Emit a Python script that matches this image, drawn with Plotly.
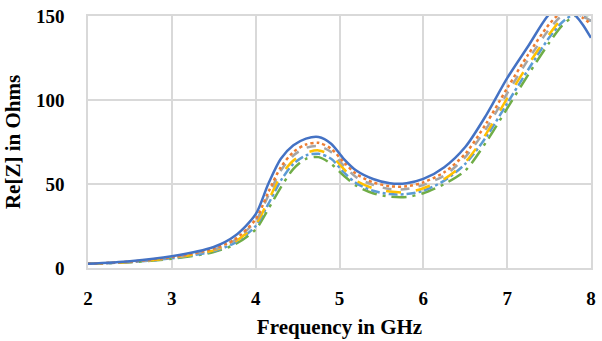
import plotly.graph_objects as go

freq = [2.0, 2.5, 3.0, 3.5, 3.75, 4.0, 4.15, 4.3, 4.45, 4.6, 4.75, 4.9, 5.05, 5.2,
        5.4, 5.6, 5.8, 6.0, 6.25, 6.5, 6.75, 7.0, 7.25, 7.5, 7.65, 7.8, 7.9, 8.0]

s_blue = [2.5, 4, 7, 12.5, 19, 32, 50, 65, 73, 77, 78, 74, 65, 58, 53, 50.5, 50.5, 53,
          60, 72, 91, 113, 132, 151, 156, 151, 145, 137]
s_orange = [2.5, 3.8, 6.5, 11.5, 17, 29, 45, 60, 69, 73.5, 74.5, 71, 63, 56, 51, 48.7,
            48.6, 51, 57, 68, 86, 107, 127, 145, 152, 152, 149, 145]
s_gray = [2.5, 3.7, 6.3, 11, 16.5, 28, 43, 58, 67, 71.5, 72.5, 69, 61, 54, 49.5, 47, 47,
          49.5, 55, 66, 83, 104, 124, 142, 150, 152, 150, 147]
s_yellow = [2.5, 3.6, 6, 10.5, 15.5, 26, 40, 55, 64, 68.5, 70, 67, 59, 52, 47.5, 45.5,
            45, 47.5, 53, 63, 80, 101, 121, 139, 148, 152, 151, 148]
s_ltblue = [2.5, 3.5, 5.8, 10, 15, 25, 38, 52, 62, 67, 68, 65, 57, 50.5, 46, 44, 44, 46,
            52, 62, 78, 98, 118, 137, 146, 151, 150, 147]
s_green = [2.5, 3.4, 5.5, 9.5, 14, 23, 35, 48, 59, 65, 66, 62, 55, 49, 44.5, 42.5, 42.3,
           44.5, 50, 58, 75, 95, 115, 134, 144, 150, 151, 150]

x_ticks = [2, 3, 4, 5, 6, 7, 8]
y_ticks = [0, 50, 100, 150]

series = [
    (s_green, "#70AD47", "longdashdot", 2.5),
    (s_ltblue, "#5B9BD5", "dashdot", 2.5),
    (s_yellow, "#FFC000", "longdash", 2.5),
    (s_gray, "#A5A5A5", "dash", 2.5),
    (s_orange, "#ED7D31", "dot", 2.5),
    (s_blue, "#4472C4", "solid", 2.5),
]

fig = go.Figure()
for ys, col, dash, w in series:
    fig.add_trace(go.Scatter(x=freq, y=ys, mode="lines",
                             line=dict(color=col, dash=dash, width=w, shape="spline", smoothing=0.8),
                             showlegend=False))

font_tick = dict(family="Liberation Serif", size=19, color="#000000")
font_title = dict(family="Liberation Serif", size=21, color="#000000")

fig.update_layout(
    width=602, height=341,
    margin=dict(l=88, r=6, t=15, b=73),
    paper_bgcolor="white", plot_bgcolor="white",
    font=font_tick,
    xaxis=dict(range=[2, 8], tickvals=x_ticks, ticktext=[f"<b>{v}</b>" for v in x_ticks],
               tickfont=font_tick,
               showgrid=True, gridcolor="#D9D9D9", gridwidth=1.5,
               showline=True, linecolor="#D9D9D9", linewidth=1.5, mirror=True,
               zeroline=False, ticks="", ticklabelstandoff=12,
               title=dict(text="<b>Frequency in GHz</b>", standoff=12, font=font_title)),
    yaxis=dict(range=[0, 150], tickvals=y_ticks, ticktext=[f"<b>{v}</b>" for v in y_ticks],
               tickfont=font_tick,
               showgrid=True, gridcolor="#D9D9D9", gridwidth=1.5,
               showline=True, linecolor="#D9D9D9", linewidth=1.5, mirror=True,
               zeroline=False, ticks="", ticklabelstandoff=18,
               title=dict(text="<b>Re[Z] in Ohms</b>", standoff=10, font=font_title)),
)

fig.write_html("out.html")
